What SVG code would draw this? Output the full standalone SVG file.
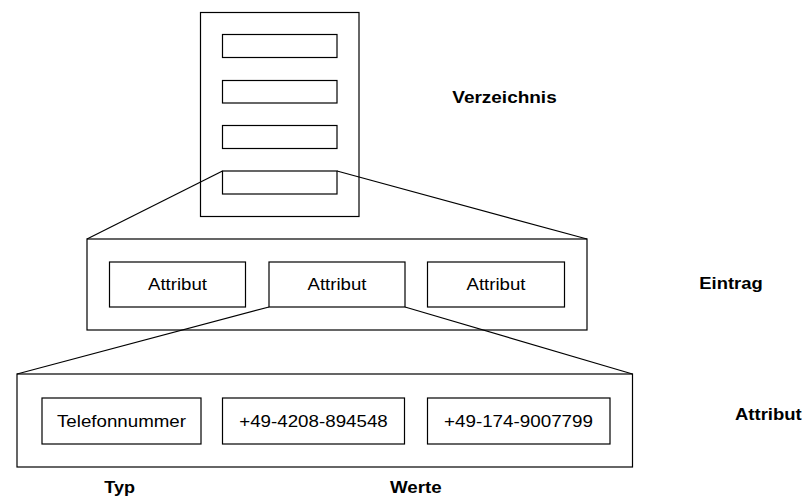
<svg xmlns="http://www.w3.org/2000/svg" width="809" height="498" viewBox="0 0 809 498">
<style>
rect{fill:none;stroke:#000;stroke-width:1.2}
line{stroke:#000;stroke-width:1.2}
text{font-family:"Liberation Sans",Arial,sans-serif;font-size:17px;fill:#000}
.b{font-weight:bold}
.m{text-anchor:middle}
</style>
<rect x="0" y="0" width="809" height="498" style="fill:#fff;stroke:none"/>
<g id="verzeichnis">
<rect x="200.5" y="12.5" width="158.5" height="204"/>
<rect x="222.5" y="34.5" width="114.5" height="23"/>
<rect x="222.5" y="80.5" width="114.5" height="22.5"/>
<rect x="222.5" y="125.5" width="114.5" height="23"/>
<rect x="222.5" y="171" width="114.5" height="23"/>
</g>
<g id="eintrag">
<rect x="87" y="239" width="500" height="91"/>
</g>
<g id="attr1"><rect x="109.5" y="262" width="136" height="45"/><text x="177.5" y="289.5" class="m" textLength="59" lengthAdjust="spacingAndGlyphs">Attribut</text></g>
<g id="attr2"><rect x="269" y="262" width="136" height="45"/><text x="337" y="289.5" class="m" textLength="59" lengthAdjust="spacingAndGlyphs">Attribut</text></g>
<g id="attr3"><rect x="427.5" y="262" width="137" height="45"/><text x="496" y="289.5" class="m" textLength="59" lengthAdjust="spacingAndGlyphs">Attribut</text></g>
<g id="attribut">
<rect x="17" y="374" width="615.5" height="93"/>
</g>
<g id="typ"><rect x="42" y="398" width="159" height="46"/><text x="121.5" y="426.7" class="m" textLength="129" lengthAdjust="spacingAndGlyphs">Telefonnummer</text></g>
<g id="wert1"><rect x="222.5" y="398" width="182" height="46"/><text x="313.5" y="426.7" class="m" textLength="148.5" lengthAdjust="spacingAndGlyphs">+49-4208-894548</text></g>
<g id="wert2"><rect x="427.5" y="398" width="182.5" height="46"/><text x="518.5" y="426.7" class="m" textLength="149" lengthAdjust="spacingAndGlyphs">+49-174-9007799</text></g>
<g id="connectors">
<line x1="222.5" y1="171" x2="87" y2="239"/>
<line x1="337" y1="171" x2="587" y2="239"/>
<line x1="269" y1="307" x2="17" y2="374"/>
<line x1="405" y1="307" x2="632.5" y2="374"/>
</g>
<g id="labels">
<text x="452.3" y="102.7" class="b" textLength="104.4" lengthAdjust="spacingAndGlyphs">Verzeichnis</text>
<text x="699.3" y="289.3" class="b" textLength="63.4" lengthAdjust="spacingAndGlyphs">Eintrag</text>
<text x="735" y="420" class="b" textLength="66.7" lengthAdjust="spacingAndGlyphs">Attribut</text>
<text x="104.3" y="492.5" class="b" textLength="30.7" lengthAdjust="spacingAndGlyphs">Typ</text>
<text x="390" y="492.5" class="b" textLength="51.7" lengthAdjust="spacingAndGlyphs">Werte</text>
</g>
</svg>
